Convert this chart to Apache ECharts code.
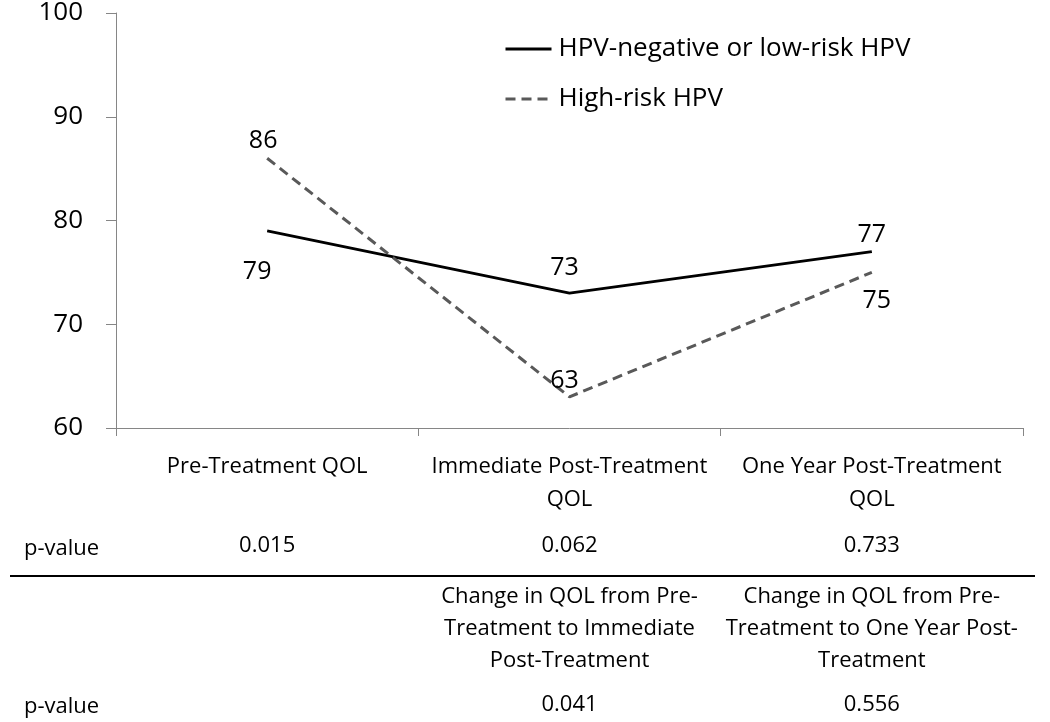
<!DOCTYPE html>
<html>
<head>
<meta charset="utf-8">
<script src="https://cdn.jsdelivr.net/npm/echarts@6/dist/echarts.min.js"></script>
<style>
html,body{margin:0;padding:0;background:#fff;}
#chart{width:1050px;height:722px;}
</style>
</head>
<body>
<div id="chart"></div>
<script>
const categories = ['Pre-Treatment QOL', 'Immediate Post-Treatment\nQOL', 'One Year Post-Treatment\nQOL'];
const seriesNames = ['HPV-negative or low-risk HPV', 'High-risk HPV'];
const lowRisk = [79, 73, 77];
const highRisk = [86, 63, 75];
const pValuesPoint = ['0.015', '0.062', '0.733'];
const changeLabels = ['', 'Change in QOL from Pre-\nTreatment to Immediate\nPost-Treatment', 'Change in QOL from Pre-\nTreatment to One Year Post-\nTreatment'];
const pValuesChange = ['', '0.041', '0.556'];
const yTicks = [60, 70, 80, 90, 100];

const FONT = '"Open Sans", "Noto Sans", sans-serif';
const chart = echarts.init(document.getElementById('chart'), null, {renderer: 'canvas'});

function labelled(values, positions, offsets) {
  return values.map((v, i) => ({
    value: v,
    label: {position: positions[i], offset: offsets[i]}
  }));
}

function textAxis(data, offset) {
  return {
    type: 'category', data: data, gridIndex: 0, position: 'bottom', offset: offset,
    axisLine: {show: false}, axisTick: {show: false}, splitLine: {show: false},
    axisLabel: {interval: 0, margin: 0, color: '#000', fontFamily: FONT, fontSize: 22, lineHeight: 32}
  };
}

chart.setOption({
  animation: false,
  backgroundColor: '#fff',
  grid: {left: 116, right: 27, top: 13, bottom: 294, containLabel: false},
  legend: {
    orient: 'vertical', left: 499, top: 31,
    itemWidth: 46, itemHeight: 28, itemGap: 24,
    itemStyle: {opacity: 0},
    lineStyle: {width: 3},
    textStyle: {fontFamily: FONT, fontSize: 26, color: '#000', padding: [0, 0, 0, 2]},
    data: seriesNames
  },
  xAxis: [
    {
      type: 'category', data: categories, boundaryGap: true,
      axisLine: {lineStyle: {color: '#868686', width: 1}},
      axisTick: {show: true, length: 8, lineStyle: {color: '#868686'}},
      axisLabel: {interval: 0, margin: 22, color: '#000', fontFamily: FONT, fontSize: 22, lineHeight: 33}
    },
    textAxis(pValuesPoint, 102),
    textAxis(changeLabels, 153),
    textAxis(pValuesChange, 261)
  ],
  yAxis: {
    type: 'value', min: yTicks[0], max: yTicks[yTicks.length - 1], interval: 10,
    axisLine: {show: true, lineStyle: {color: '#868686', width: 1}},
    axisTick: {show: true, length: 10, lineStyle: {color: '#868686'}},
    splitLine: {show: false},
    axisLabel: {margin: 33, color: '#000', fontFamily: FONT, fontSize: 26}
  },
  series: [
    {
      name: seriesNames[0], type: 'line', xAxisIndex: 0,
      data: labelled(lowRisk, ['bottom', 'top', 'top'], [[-10, 23], [-5, -8], [0, 1]]),
      symbol: 'circle', symbolSize: 0.01, showSymbol: true,
      lineStyle: {color: '#000', width: 3, type: 'solid'},
      itemStyle: {color: '#000'},
      label: {show: true, color: '#000', fontFamily: FONT, fontSize: 25}
    },
    {
      name: seriesNames[1], type: 'line', xAxisIndex: 0,
      data: labelled(highRisk, ['top', 'top', 'bottom'], [[-4, 0], [-5, 2], [5, 11]]),
      symbol: 'circle', symbolSize: 0.01, showSymbol: true,
      lineStyle: {color: '#595959', width: 3, type: [10, 6]},
      itemStyle: {color: '#595959'},
      label: {show: true, color: '#000', fontFamily: FONT, fontSize: 25}
    }
  ],
  graphic: [
    {type: 'text', left: 24, top: 538, style: {text: 'p-value', fontFamily: FONT, fontSize: 22, fill: '#000'}},
    {type: 'line', shape: {x1: 10, y1: 576, x2: 1035, y2: 576}, style: {stroke: '#000', lineWidth: 2}},
    {type: 'text', left: 24, top: 696, style: {text: 'p-value', fontFamily: FONT, fontSize: 22, fill: '#000'}}
  ]
});
</script>
</body>
</html>
